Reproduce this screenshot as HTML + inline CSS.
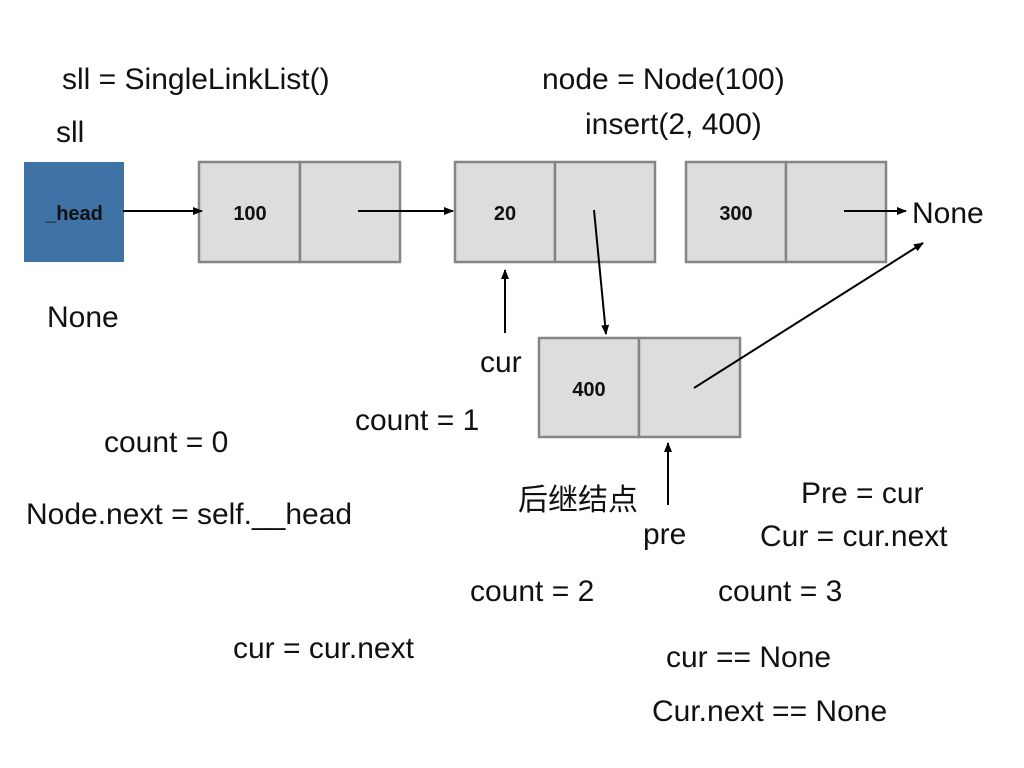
<!DOCTYPE html>
<html><head><meta charset="utf-8"><style>
html,body{margin:0;padding:0;background:#fff;}
svg{display:block;}
.t{font-family:"Liberation Sans","Noto Sans CJK SC",sans-serif;font-size:30px;fill:#111;}
.b{font-family:"Liberation Sans",sans-serif;font-size:20px;font-weight:bold;fill:#111;}
.box{fill:#dcdddf;stroke:#858585;stroke-width:2.5;}
</style></head><body>
<svg width="1024" height="768" viewBox="0 0 1024 768" xmlns="http://www.w3.org/2000/svg">
<defs><marker id="a" markerWidth="10" markerHeight="10" refX="9" refY="5" orient="auto" markerUnits="userSpaceOnUse"><path d="M0,1 L10,5 L0,9 z" fill="#000"/></marker></defs>
<rect x="24" y="162" width="100" height="100" fill="#3f73a6"/>
<text class="b" x="74" y="220" text-anchor="middle">_head</text>
<rect class="box" x="199" y="162" width="101" height="100"/><rect class="box" x="300" y="162" width="100" height="100"/>
<text class="b" x="250" y="220" text-anchor="middle">100</text>
<rect class="box" x="455" y="162" width="100" height="100"/><rect class="box" x="555" y="162" width="100" height="100"/>
<text class="b" x="505" y="220" text-anchor="middle">20</text>
<rect class="box" x="686" y="162" width="100" height="100"/><rect class="box" x="786" y="162" width="100" height="100"/>
<text class="b" x="736" y="220" text-anchor="middle">300</text>
<rect class="box" x="539" y="338" width="100" height="99"/><rect class="box" x="639" y="338" width="101" height="99"/>
<text class="b" x="589" y="396" text-anchor="middle">400</text>
<g stroke="#000" stroke-width="2" fill="none" marker-end="url(#a)">
<line x1="123" y1="211" x2="202" y2="211"/>
<line x1="358" y1="211" x2="453" y2="211"/>
<line x1="844" y1="211" x2="906" y2="211"/>
<line x1="594" y1="210" x2="606" y2="334"/>
<line x1="694" y1="388" x2="923" y2="243"/>
<line x1="505" y1="333" x2="505" y2="270"/>
<line x1="668" y1="505" x2="668" y2="443"/>
</g>
<text class="t" x="62" y="89">sll = SingleLinkList()</text>
<text class="t" x="56" y="142">sll</text>
<text class="t" x="542" y="89">node = Node(100)</text>
<text class="t" x="585" y="134">insert(2, 400)</text>
<text class="t" x="912" y="223">None</text>
<text class="t" x="47" y="327">None</text>
<text class="t" x="480" y="372">cur</text>
<text class="t" x="355" y="430">count = 1</text>
<text class="t" x="104" y="452">count = 0</text>
<text class="t" x="26" y="524">Node.next = self.__head</text>
<text class="t" x="518" y="510">后继结点</text>
<text class="t" x="643" y="544">pre</text>
<text class="t" x="801" y="503">Pre = cur</text>
<text class="t" x="760" y="546">Cur = cur.next</text>
<text class="t" x="470" y="601">count = 2</text>
<text class="t" x="718" y="601">count = 3</text>
<text class="t" x="233" y="658">cur = cur.next</text>
<text class="t" x="666" y="667">cur == None</text>
<text class="t" x="652" y="721">Cur.next == None</text>
</svg>
</body></html>
